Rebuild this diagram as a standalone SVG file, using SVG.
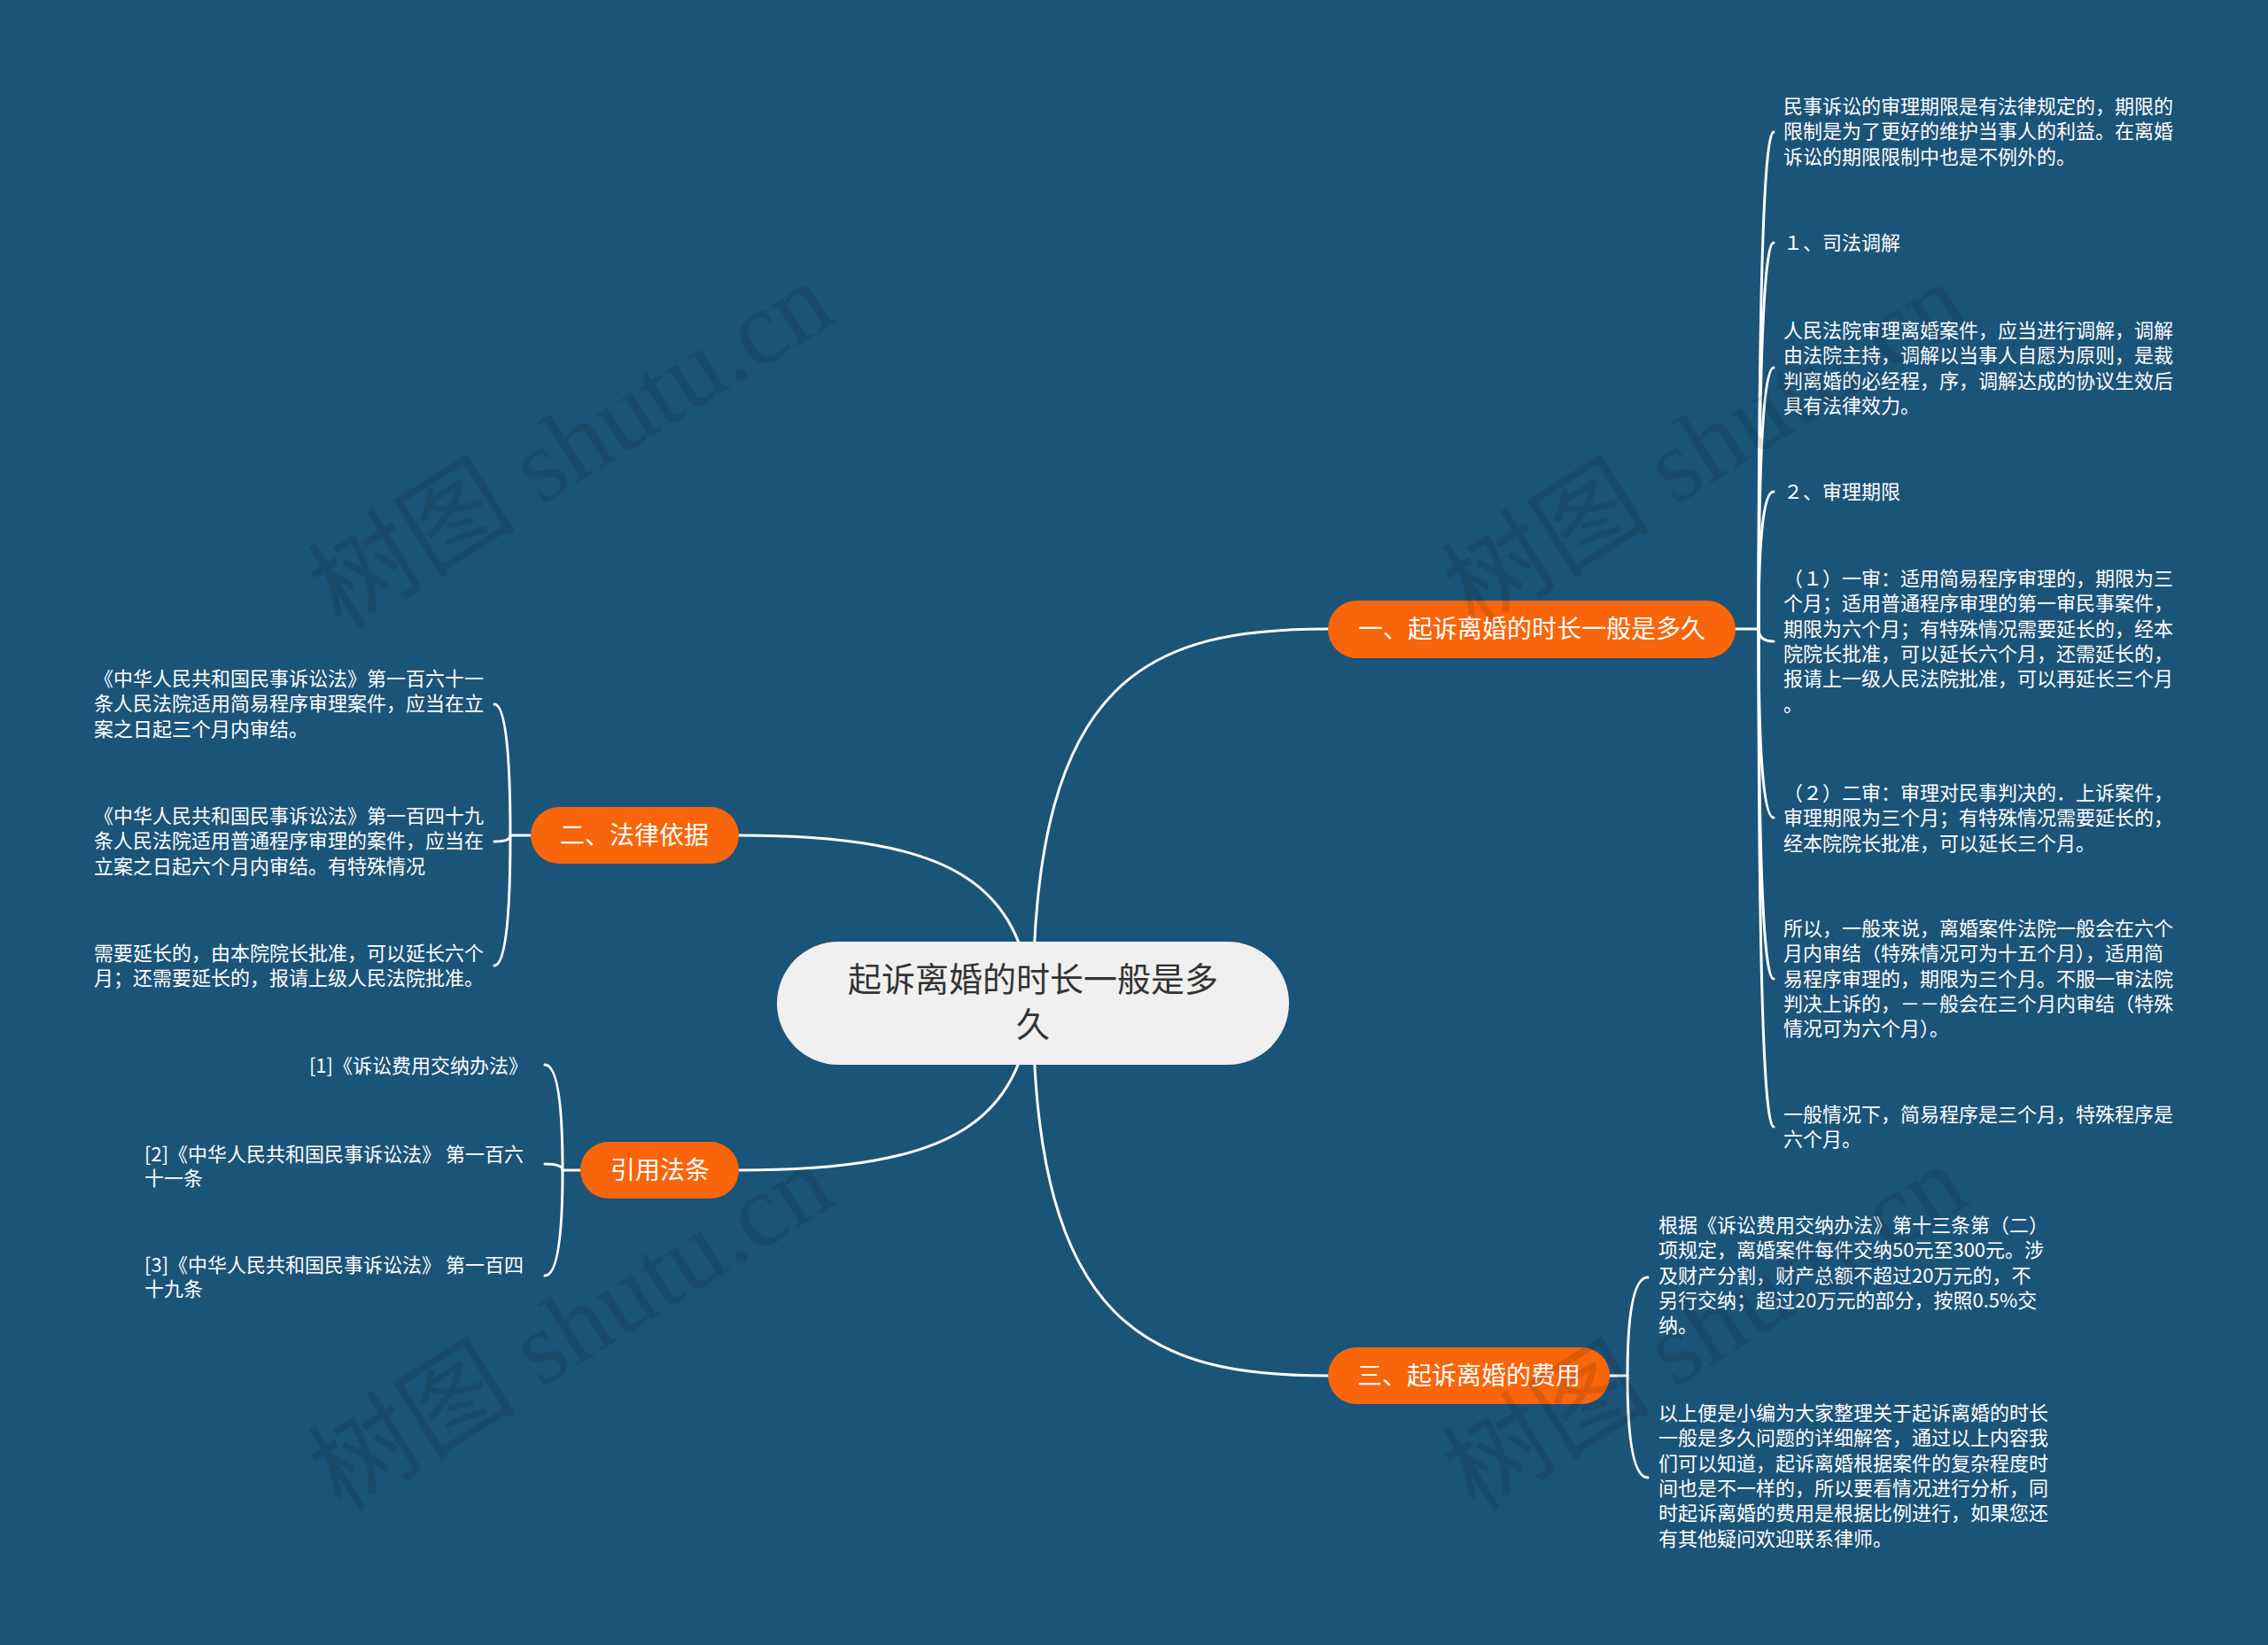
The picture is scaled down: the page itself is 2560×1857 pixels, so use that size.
<svg xmlns="http://www.w3.org/2000/svg" width="2560" height="1857" viewBox="0 0 2560 1857">
<style>
.t{font-family:"Noto Sans CJK SC","Noto Sans",sans-serif;font-size:22px;fill:#ffffff}
.n{font-family:"Noto Sans CJK SC","Noto Sans",sans-serif;font-size:28px;fill:#ffffff;text-anchor:middle}
.c{font-family:"Noto Sans CJK SC","Noto Sans",sans-serif;font-size:38px;fill:#333333;text-anchor:middle}
.o{fill:#f9650a}
.l{fill:none;stroke:#ffffff;stroke-width:3;stroke-linecap:round}
.w{font-family:"Liberation Serif","Noto Sans CJK SC",serif;font-size:118px;fill:#000000;opacity:0.1}
</style>
<rect x="0" y="0" width="2560" height="1857" fill="#1b5479"/>
<g id="connectors" class="l">
<path d="M1166,1132 C1166,760 1300,710 1499,710"/>
<path d="M1166,1132 C1150,1000 1080,943 834,943"/>
<path d="M1166,1132 C1150,1264 1080,1321 834,1321"/>
<path d="M1166,1132 C1166,1500 1300,1553 1499,1553"/>
<path d="M1959,710 L1985,710"/>
<path d="M1985,710 Q1985,149 2002,149"/>
<path d="M1985,710 Q1985,274 2002,274"/>
<path d="M1985,710 Q1985,415 2002,415"/>
<path d="M1985,710 Q1985,555 2002,555"/>
<path d="M1985,710 Q1985,724 2002,724"/>
<path d="M1985,710 Q1985,923 2002,923"/>
<path d="M1985,710 Q1985,1105 2002,1105"/>
<path d="M1985,710 Q1985,1272 2002,1272"/>
<path d="M599,943 L576,943"/>
<path d="M576,943 Q576,795 558,795"/>
<path d="M576,943 Q576,950 558,950"/>
<path d="M576,943 Q576,1090 558,1090"/>
<path d="M655,1321 L635,1321"/>
<path d="M635,1321 Q635,1202 615,1202"/>
<path d="M635,1321 Q635,1314 615,1314"/>
<path d="M635,1321 Q635,1440 615,1440"/>
<path d="M1817,1553 L1837,1553"/>
<path d="M1837,1553 Q1837,1442 1860,1442"/>
<path d="M1837,1553 Q1837,1668 1860,1668"/>
</g>
<g id="root">
<rect x="877" y="1063" width="578" height="139" rx="69.5" fill="#f0f0f0"/>
<text class="c" x="1166" y="1119">起诉离婚的时长一般是多</text>
<text class="c" x="1166" y="1170">久</text>
</g>
<g id="n1">
<rect class="o" x="1499" y="678" width="460" height="65" rx="32.5"/>
<text class="n" x="1729" y="720">一、起诉离婚的时长一般是多久</text>
</g>
<g id="n2">
<rect class="o" x="599" y="911" width="235" height="64" rx="32"/>
<text class="n" x="716" y="953">二、法律依据</text>
</g>
<g id="n3">
<rect class="o" x="655" y="1289" width="179" height="64" rx="32"/>
<text class="n" x="745" y="1331">引用法条</text>
</g>
<g id="n4">
<rect class="o" x="1499" y="1521" width="318" height="64" rx="32"/>
<text class="n" x="1658" y="1563">三、起诉离婚的费用</text>
</g>
<g id="n1c1"><text class="t" x="2013" y="128"><tspan x="2013">民事诉讼的审理期限是有法律规定的，期限的</tspan><tspan x="2013" dy="28.3">限制是为了更好的维护当事人的利益。在离婚</tspan><tspan x="2013" dy="28.3">诉讼的期限限制中也是不例外的。</tspan></text></g>
<g id="n1c2"><text class="t" x="2013" y="282">１、司法调解</text></g>
<g id="n1c3"><text class="t" x="2013" y="381"><tspan x="2013">人民法院审理离婚案件，应当进行调解，调解</tspan><tspan x="2013" dy="28.3">由法院主持，调解以当事人自愿为原则，是裁</tspan><tspan x="2013" dy="28.3">判离婚的必经程，序，调解达成的协议生效后</tspan><tspan x="2013" dy="28.3">具有法律效力。</tspan></text></g>
<g id="n1c4"><text class="t" x="2013" y="563">２、审理期限</text></g>
<g id="n1c5"><text class="t" x="2013" y="661"><tspan x="2013">（１）一审：适用简易程序审理的，期限为三</tspan><tspan x="2013" dy="28.3">个月；适用普通程序审理的第一审民事案件，</tspan><tspan x="2013" dy="28.3">期限为六个月；有特殊情况需要延长的，经本</tspan><tspan x="2013" dy="28.3">院院长批准，可以延长六个月，还需延长的，</tspan><tspan x="2013" dy="28.3">报请上一级人民法院批准，可以再延长三个月</tspan><tspan x="2013" dy="28.3">。</tspan></text></g>
<g id="n1c6"><text class="t" x="2013" y="903"><tspan x="2013">（２）二审：审理对民事判决的．上诉案件，</tspan><tspan x="2013" dy="28.3">审理期限为三个月；有特殊情况需要延长的，</tspan><tspan x="2013" dy="28.3">经本院院长批准，可以延长三个月。</tspan></text></g>
<g id="n1c7"><text class="t" x="2013" y="1056"><tspan x="2013">所以，一般来说，离婚案件法院一般会在六个</tspan><tspan x="2013" dy="28.3">月内审结（特殊情况可为十五个月），适用简</tspan><tspan x="2013" dy="28.3">易程序审理的，期限为三个月。不服一审法院</tspan><tspan x="2013" dy="28.3">判决上诉的，－－般会在三个月内审结（特殊</tspan><tspan x="2013" dy="28.3">情况可为六个月）。</tspan></text></g>
<g id="n1c8"><text class="t" x="2013" y="1266"><tspan x="2013">一般情况下，简易程序是三个月，特殊程序是</tspan><tspan x="2013" dy="28.3">六个月。</tspan></text></g>
<g id="n2c1"><text class="t" x="106" y="774"><tspan x="106">《中华人民共和国民事诉讼法》第一百六十一</tspan><tspan x="106" dy="28.3">条人民法院适用简易程序审理案件，应当在立</tspan><tspan x="106" dy="28.3">案之日起三个月内审结。</tspan></text></g>
<g id="n2c2"><text class="t" x="106" y="929"><tspan x="106">《中华人民共和国民事诉讼法》第一百四十九</tspan><tspan x="106" dy="28.3">条人民法院适用普通程序审理的案件，应当在</tspan><tspan x="106" dy="28.3">立案之日起六个月内审结。有特殊情况</tspan></text></g>
<g id="n2c3"><text class="t" x="106" y="1084"><tspan x="106">需要延长的，由本院院长批准，可以延长六个</tspan><tspan x="106" dy="28.3">月；还需要延长的，报请上级人民法院批准。</tspan></text></g>
<g id="n3c1"><text class="t" x="596" y="1211" text-anchor="end">[1]《诉讼费用交纳办法》</text></g>
<g id="n3c2"><text class="t" x="163" y="1311"><tspan x="163">[2]《中华人民共和国民事诉讼法》 第一百六</tspan><tspan x="163" dy="27">十一条</tspan></text></g>
<g id="n3c3"><text class="t" x="163" y="1436"><tspan x="163">[3]《中华人民共和国民事诉讼法》 第一百四</tspan><tspan x="163" dy="27">十九条</tspan></text></g>
<g id="n4c1"><text class="t" x="1872" y="1391"><tspan x="1872">根据《诉讼费用交纳办法》第十三条第（二）</tspan><tspan x="1872" dy="28.3">项规定，离婚案件每件交纳50元至300元。涉</tspan><tspan x="1872" dy="28.3">及财产分割，财产总额不超过20万元的，不</tspan><tspan x="1872" dy="28.3">另行交纳；超过20万元的部分，按照0.5%交</tspan><tspan x="1872" dy="28.3">纳。</tspan></text></g>
<g id="n4c2"><text class="t" x="1872" y="1603"><tspan x="1872">以上便是小编为大家整理关于起诉离婚的时长</tspan><tspan x="1872" dy="28.3">一般是多久问题的详细解答，通过以上内容我</tspan><tspan x="1872" dy="28.3">们可以知道，起诉离婚根据案件的复杂程度时</tspan><tspan x="1872" dy="28.3">间也是不一样的，所以要看情况进行分析，同</tspan><tspan x="1872" dy="28.3">时起诉离婚的费用是根据比例进行，如果您还</tspan><tspan x="1872" dy="28.3">有其他疑问欢迎联系律师。</tspan></text></g>
<g id="watermarks">
<text class="w" x="385" y="712" transform="rotate(-32 385 712)">树图 shutu.cn</text>
<text class="w" x="1665" y="712" transform="rotate(-32 1665 712)">树图 shutu.cn</text>
<text class="w" x="385" y="1708" transform="rotate(-32 385 1708)">树图 shutu.cn</text>
<text class="w" x="1665" y="1708" transform="rotate(-32 1665 1708)">树图 shutu.cn</text>
</g>
</svg>
